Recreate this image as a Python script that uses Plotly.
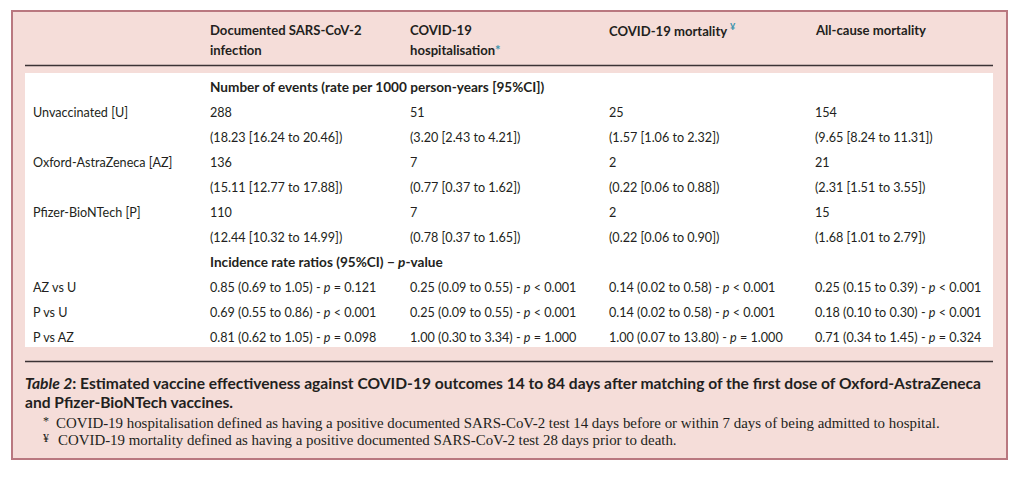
import plotly.graph_objects as go

# ---------------- data ----------------
col_head_1 = ["Documented SARS-CoV-2", "COVID-19", "COVID-19 mortality", "All-cause mortality"]
col_head_2 = ["infection", "hospitalisation", "", ""]
col_marks = ["", "*", "¥", ""]

section_events = "Number of events (rate per 1000 person-years [95%CI])"
section_irr = "Incidence rate ratios (95%CI) − <i>p</i>-value"

groups = ["Unvaccinated [U]", "Oxford-AstraZeneca [AZ]", "Pfizer-BioNTech [P]"]
events = [[288, 51, 25, 154], [136, 7, 2, 21], [110, 7, 2, 15]]
rate = [[18.23, 3.20, 1.57, 9.65], [15.11, 0.77, 0.22, 2.31], [12.44, 0.78, 0.22, 1.68]]
rate_lo = [[16.24, 2.43, 1.06, 8.24], [12.77, 0.37, 0.06, 1.51], [10.32, 0.37, 0.06, 1.01]]
rate_hi = [[20.46, 4.21, 2.32, 11.31], [17.88, 1.62, 0.88, 3.55], [14.99, 1.65, 0.90, 2.79]]

comparisons = ["AZ vs U", "P vs U", "P vs AZ"]
irr = [[0.85, 0.25, 0.14, 0.25], [0.69, 0.25, 0.14, 0.18], [0.81, 1.00, 1.00, 0.71]]
irr_lo = [[0.69, 0.09, 0.02, 0.15], [0.55, 0.09, 0.02, 0.10], [0.62, 0.30, 0.07, 0.34]]
irr_hi = [[1.05, 0.55, 0.58, 0.39], [0.86, 0.55, 0.58, 0.30], [1.05, 3.34, 13.80, 1.45]]
p_op = [["=", "<", "<", "<"], ["<", "<", "<", "<"], ["=", "=", "=", "="]]
p_val = [["0.121", "0.001", "0.001", "0.001"], ["0.001", "0.001", "0.001", "0.001"],
         ["0.098", "1.000", "1.000", "0.324"]]

caption_1 = ("<i>Table 2</i>: Estimated vaccine effectiveness against COVID-19 outcomes "
             "14 to 84 days after matching of the first dose of Oxford-AstraZeneca")
caption_2 = "and Pfizer-BioNTech vaccines."
foot_marks = ["*", "¥"]
foot_texts = [
    "COVID-19 hospitalisation defined as having a positive documented SARS-CoV-2 test 14 days before or within 7 days of being admitted to hospital.",
    "COVID-19 mortality defined as having a positive documented SARS-CoV-2 test 28 days prior to death.",
]

# ---------------- layout constants ----------------
W, H = 1024, 477
PINK = "#f5ddd9"
BORDER = "#b97880"
TEXT = "#231f20"
TEAL = "#3d93ad"
SANS = "Lato"
SERIF = "Liberation Serif"
FS = 12.6
FS_HEAD = 13.1
FS_SEC = 13.6

label_x = 31
col_x = [208, 408, 607, 813]
row0_y = 87
row_h = 25

fig = go.Figure()
shapes = []
ann = []

# outer box
shapes.append(dict(type="rect", x0=12, x1=1007, y0=11, y1=459,
                   fillcolor=PINK, line=dict(color=BORDER, width=2), layer="below"))
# white body
shapes.append(dict(type="rect", x0=25, x1=993, y0=73, y1=347,
                   fillcolor="white", line=dict(width=0), layer="below"))
# rules
shapes.append(dict(type="line", x0=25, x1=993, y0=65.5, y1=65.5, line=dict(color="#3b3335", width=1.5)))
shapes.append(dict(type="line", x0=25, x1=993, y0=361.5, y1=361.5, line=dict(color="#3b3335", width=1.5)))


def text(x, y, s, size=FS, family=SANS, color=TEXT, bold=False):
    if bold:
        s = "<b>" + s + "</b>"
    ann.append(dict(x=x, y=y, xref="x", yref="y", text=s, showarrow=False,
                    xanchor="left", yanchor="middle", align="left",
                    font=dict(family=family, size=size, color=color)))


# header
for j in range(4):
    mark = col_marks[j]
    if col_head_2[j]:
        text(col_x[j], 30, col_head_1[j], size=FS_HEAD, bold=True)
        h2 = col_head_2[j]
        if mark:
            h2 += f"<span style='color:{TEAL}'>{mark}</span>"
        text(col_x[j], 50, h2, size=FS_HEAD, bold=True)
    else:
        h1 = col_head_1[j]
        if mark:
            h1 += f" <sup><span style='color:{TEAL}'>{mark}</span></sup>"
        text(col_x[j], 30, h1, size=FS_HEAD, bold=True)

# events section
text(col_x[0], row0_y, section_events, size=FS_SEC, bold=True)
for g in range(3):
    y1 = row0_y + row_h * (1 + 2 * g)
    y2 = y1 + row_h
    text(label_x, y1, groups[g])
    for j in range(4):
        text(col_x[j], y1, f"{events[g][j]}")
        text(col_x[j], y2, f"({rate[g][j]:.2f} [{rate_lo[g][j]:.2f} to {rate_hi[g][j]:.2f}])")

# irr section
text(col_x[0], row0_y + row_h * 7, section_irr, size=FS_SEC, bold=True)
for c in range(3):
    y = row0_y + row_h * (8 + c)
    text(label_x, y, comparisons[c])
    for j in range(4):
        text(col_x[j], y, f"{irr[c][j]:.2f} ({irr_lo[c][j]:.2f} to {irr_hi[c][j]:.2f}) - "
                          f"<i>p</i> {p_op[c][j]} {p_val[c][j]}")

# caption
text(23, 383, caption_1, size=15.6, bold=True)
text(23, 402, caption_2, size=15.6, bold=True)

# footnotes
for k in range(2):
    y = 423 + 17 * k
    text(41, y - 2, foot_marks[k], size=12, family=SERIF)
    text(54 + 2 * k, y, foot_texts[k], size=14.9, family=SERIF)

fig.update_layout(
    width=W, height=H, margin=dict(l=0, r=0, t=0, b=0),
    paper_bgcolor="white", plot_bgcolor="white",
    xaxis=dict(range=[0, W], visible=False, fixedrange=True),
    yaxis=dict(range=[H, 0], visible=False, fixedrange=True),
    shapes=shapes, annotations=ann, showlegend=False,
)
fig.write_html("out.html", config={"displayModeBar": False},
               post_script="document.body.style.margin='0';document.body.style.overflow='hidden';")
